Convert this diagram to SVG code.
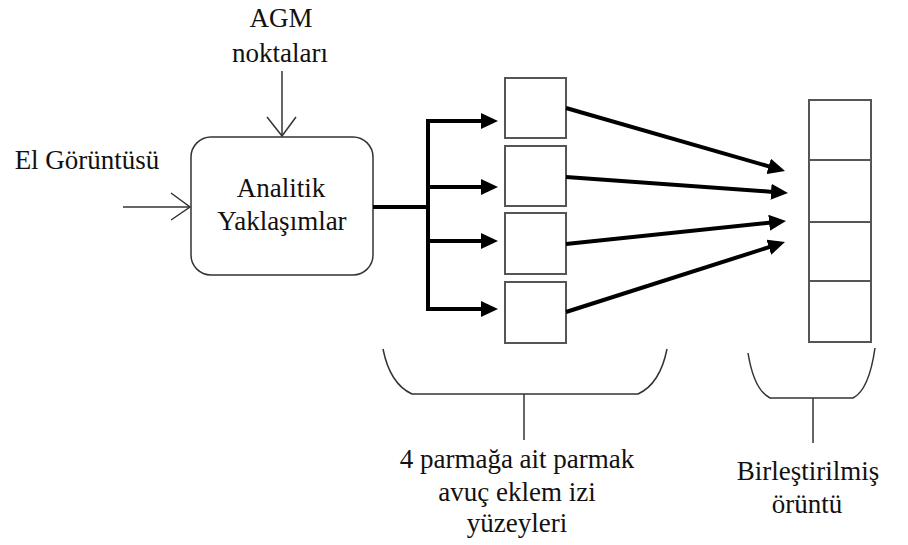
<svg xmlns="http://www.w3.org/2000/svg" width="908" height="545" viewBox="0 0 908 545">
<style>
text{font-family:'Liberation Serif','DejaVu Serif','Times New Roman',serif;font-size:27px;fill:#111;text-anchor:middle}
.thin{stroke:#333;stroke-width:1.5;fill:none}
.box{stroke:#555;stroke-width:2;fill:#fff}
.thick{stroke:#000;stroke-width:4;fill:none}
</style>
<defs>
<marker id="ah" markerUnits="userSpaceOnUse" markerWidth="18" markerHeight="16" refX="2" refY="8" orient="auto" viewBox="0 0 18 16">
<path d="M0,0 L17,8 L0,16 z" fill="#000"/>
</marker>
</defs>
<rect width="908" height="545" fill="#fff"/>
<g id="label-agm">
<text x="281" y="27" font-family="Liberation Serif, serif">AGM</text>
<text x="280" y="62" font-family="Liberation Serif, serif">noktaları</text>
</g>
<g id="label-el">
<text x="87" y="169" font-family="Liberation Serif, serif">El Görüntüsü</text>
</g>
<g id="analitik">
<rect x="191" y="137" width="182" height="138" rx="20" ry="20" class="thin" fill="#fff"/>
<text x="281" y="197" font-family="Liberation Serif, serif">Analitik</text>
<text x="282" y="230" font-family="Liberation Serif, serif">Yaklaşımlar</text>
</g>
<g id="surfaces">
<rect x="505" y="78" width="61" height="60" class="box"/>
<rect x="505" y="146" width="61" height="60" class="box"/>
<rect x="505" y="213" width="61" height="61" class="box"/>
<rect x="505" y="282" width="61" height="61" class="box"/>
</g>
<g id="combined">
<rect x="809" y="100" width="62" height="242" class="box"/>
<line x1="809" y1="160" x2="871" y2="160" class="box"/>
<line x1="809" y1="222" x2="871" y2="222" class="box"/>
<line x1="809" y1="281" x2="871" y2="281" class="box"/>
</g>
<g id="connectors">
<line x1="123" y1="207" x2="190" y2="207" class="thin"/>
<polyline points="171,193 190,207 171,220" class="thin"/>
<line x1="282" y1="71" x2="282" y2="136" class="thin"/>
<polyline points="267,117 282,136 296,117" class="thin"/>
<line x1="373" y1="207" x2="428" y2="207" class="thick"/>
<line x1="428" y1="119" x2="428" y2="311" class="thick"/>
<line x1="426" y1="121" x2="483" y2="121" class="thick" marker-end="url(#ah)"/>
<line x1="428" y1="187" x2="483" y2="187" class="thick" marker-end="url(#ah)"/>
<line x1="428" y1="241" x2="483" y2="241" class="thick" marker-end="url(#ah)"/>
<line x1="426" y1="309" x2="483" y2="309" class="thick" marker-end="url(#ah)"/>
<line x1="566" y1="108" x2="770.6" y2="166.9" class="thick" marker-end="url(#ah)"/>
<line x1="566" y1="177" x2="773" y2="191.9" class="thick" marker-end="url(#ah)"/>
<line x1="566" y1="244" x2="771.1" y2="222.6" class="thick" marker-end="url(#ah)"/>
<line x1="566" y1="312" x2="770.7" y2="246.6" class="thick" marker-end="url(#ah)"/>
</g>
<g id="brace-left">
<path d="M383,349 Q390,384 412,394 L638,394 Q660,384 667,349" class="thin"/>
<line x1="524" y1="394" x2="524" y2="440" class="thin"/>
<text x="517" y="468" font-family="Liberation Serif, serif">4 parmağa ait parmak</text>
<text x="517" y="501" font-family="Liberation Serif, serif">avuç eklem izi</text>
<text x="517" y="532" font-family="Liberation Serif, serif">yüzeyleri</text>
</g>
<g id="brace-right">
<path d="M748,353 Q754,390 770,398 L853,398 Q869,390 875,348" class="thin"/>
<line x1="813" y1="398" x2="813" y2="443" class="thin"/>
<text x="808" y="480" font-family="Liberation Serif, serif">Birleştirilmiş</text>
<text x="807" y="513" font-family="Liberation Serif, serif">örüntü</text>
</g>
</svg>
